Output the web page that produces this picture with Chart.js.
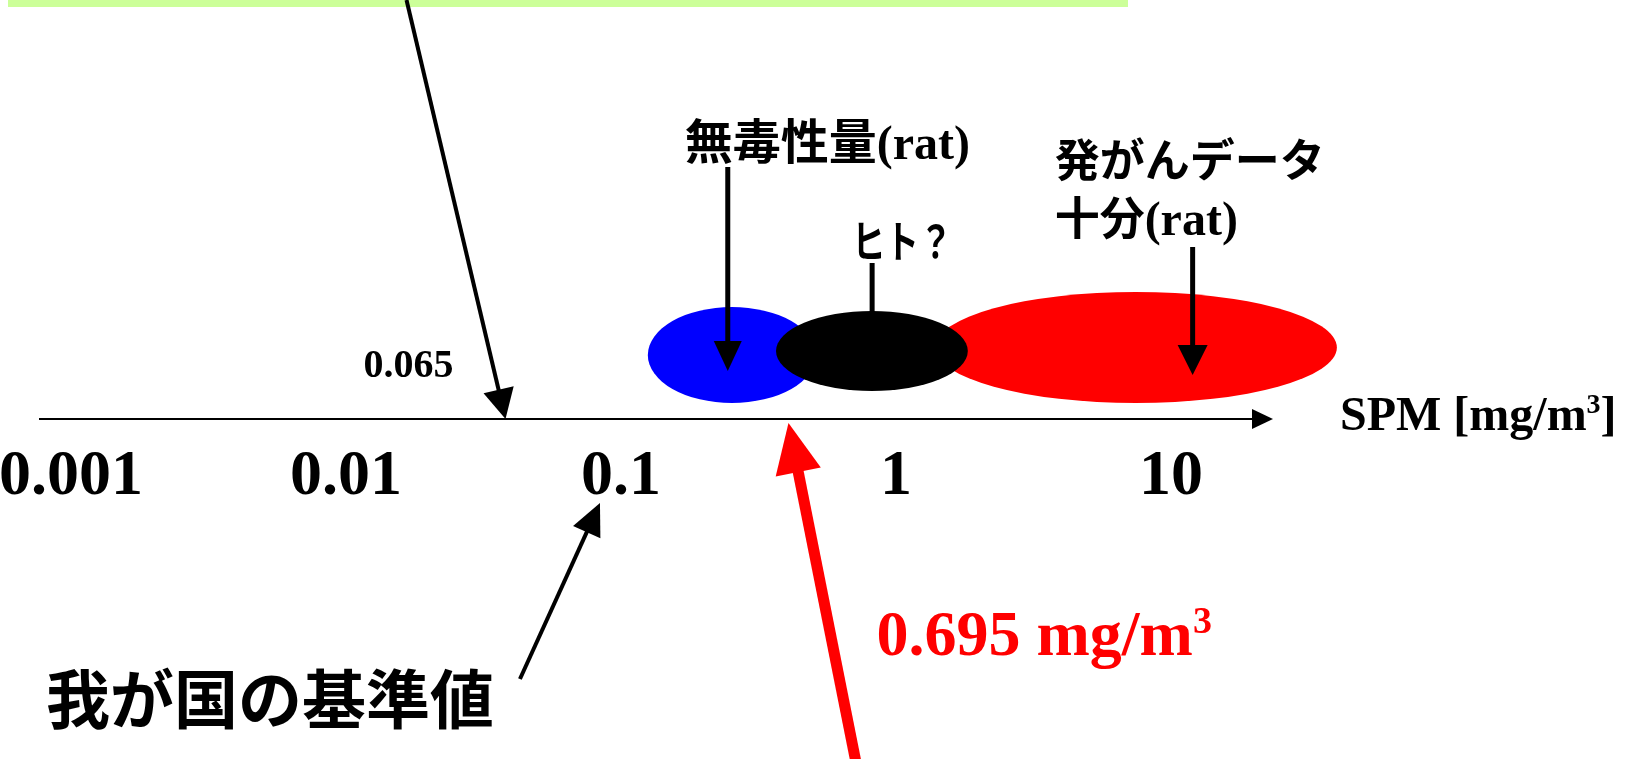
<!DOCTYPE html>
<html>
<head>
<meta charset="utf-8">
<script src="https://cdn.jsdelivr.net/npm/chart.js@4.4.1/dist/chart.umd.min.js"></script>
<style>
  html, body { margin: 0; padding: 0; background: #ffffff; overflow: hidden; }
  canvas { display: block; }
</style>
</head>
<body>
<canvas id="spm" width="1629" height="759"></canvas>
<script>
// SPM concentration axis (mg/m3), logarithmic
const tickValues = [0.001, 0.01, 0.1, 1, 10];
const tickLabels = ['0.001', '0.01', '0.1', '1', '10'];

// concentration ranges (mg/m3) as [low, high]
const noaelRange = [0.214, 0.875];     // 無毒性量(rat)
const humanRange = [0.626, 3.12];      // ヒト？
const carcinogenRange = [2.37, 68.6];  // 発がんデータ十分(rat)

// where the pointers land inside each range (mg/m3)
const noaelPoint = 0.418;
const humanPoint = 1.4;
const carcinogenPoint = 20.5;

// reference concentrations (mg/m3)
const guidelineValue = 0.065;
const standardValue = 0.1;     // 我が国の基準値
const exposureValue = 0.695;

const SERIF = '"Liberation Serif", "Times New Roman", serif';
const JP = '"Noto Sans CJK JP", "Noto Sans CJK SC", sans-serif';

function arrow(ctx, x1, y1, x2, y2, shaft, headW, headL, color) {
  const dx = x2 - x1, dy = y2 - y1;
  const len = Math.hypot(dx, dy);
  const ux = dx / len, uy = dy / len;
  const bx = x2 - ux * headL, by = y2 - uy * headL;
  ctx.save();
  ctx.strokeStyle = color;
  ctx.fillStyle = color;
  ctx.lineWidth = shaft;
  ctx.lineCap = 'butt';
  ctx.beginPath();
  ctx.moveTo(x1, y1);
  ctx.lineTo(bx + ux * 2, by + uy * 2);
  ctx.stroke();
  ctx.beginPath();
  ctx.moveTo(x2, y2);
  ctx.lineTo(bx - uy * headW / 2, by + ux * headW / 2);
  ctx.lineTo(bx + uy * headW / 2, by - ux * headW / 2);
  ctx.closePath();
  ctx.fill();
  ctx.restore();
}

function line(ctx, x1, y1, x2, y2, w, color) {
  ctx.save();
  ctx.strokeStyle = color;
  ctx.lineWidth = w;
  ctx.beginPath();
  ctx.moveTo(x1, y1);
  ctx.lineTo(x2, y2);
  ctx.stroke();
  ctx.restore();
}

// text made of runs in different fonts, left aligned on one baseline
function runs(ctx, x, y, parts, color, scaleX) {
  ctx.save();
  ctx.fillStyle = color;
  ctx.textBaseline = 'alphabetic';
  ctx.textAlign = 'left';
  ctx.translate(x, y);
  ctx.scale(scaleX || 1, 1);
  let cx = 0;
  for (const p of parts) {
    ctx.font = p.font;
    ctx.fillText(p.text, cx, p.dy || 0);
    cx += ctx.measureText(p.text).width;
  }
  ctx.restore();
}

function ellipse(ctx, xs, range, h, ry, color) {
  const x0 = xs.getPixelForValue(range[0]);
  const x1 = xs.getPixelForValue(range[1]);
  ctx.save();
  ctx.fillStyle = color;
  ctx.beginPath();
  ctx.ellipse((x0 + x1) / 2, h, (x1 - x0) / 2, ry, 0, 0, Math.PI * 2);
  ctx.fill();
  ctx.restore();
}

const overlay = {
  id: 'spmOverlay',
  afterDraw(chart) {
    const ctx = chart.ctx;
    const xs = chart.scales.x;
    const ys = chart.scales.y;
    const area = chart.chartArea;
    const axisY = area.bottom - 1;
    const px = v => xs.getPixelForValue(v);
    const py = h => ys.getPixelForValue(h);

    // banner strip along the top
    ctx.fillStyle = '#ccff99';
    ctx.fillRect(8, 0, 1120, 7);

    // concentration axis with arrow head
    line(ctx, 39, axisY, area.right, axisY, 2, '#000');
    ctx.fillStyle = '#000';
    ctx.beginPath();
    ctx.moveTo(area.right, axisY - 10);
    ctx.lineTo(area.right + 21, axisY);
    ctx.lineTo(area.right, axisY + 10);
    ctx.closePath();
    ctx.fill();

    // ranges
    ellipse(ctx, xs, noaelRange, py(65), 48, '#0000ff');
    ellipse(ctx, xs, carcinogenRange, py(72.5), 55.5, '#ff0000');
    ellipse(ctx, xs, humanRange, py(69), 40, '#000000');

    // pointers into the ranges
    const xn = px(noaelPoint);
    arrow(ctx, xn, py(253), xn, py(49), 5, 28, 30, '#000');
    const xc = px(carcinogenPoint);
    arrow(ctx, xc, py(173), xc, py(45), 5, 30, 30, '#000');
    const xh = px(humanPoint);
    line(ctx, xh, py(157), xh, py(108), 5, '#000');

    // guideline 0.065
    const xg = px(guidelineValue);
    arrow(ctx, xg - 99, 0, xg, axisY, 4, 31, 30, '#000');
    runs(ctx, xg - 142, 377, [{ text: '0.065', font: 'bold 40px ' + SERIF }], '#000');

    // national standard, pointing at its tick label
    const xsd = px(standardValue) + 43;
    arrow(ctx, xsd - 80, 679, xsd, 503, 4, 30, 32, '#000');
    runs(ctx, 46, 723, [{ text: '我が国の基準値', font: 'bold 64px ' + JP }], '#000');

    // exposure 0.695 mg/m3
    const xe = px(exposureValue);
    arrow(ctx, xe + 70, 775, xe, 423, 11, 46, 50, '#ff0000');
    runs(ctx, xe + 88, 655, [
      { text: '0.695 mg/m', font: 'bold 64px ' + SERIF },
      { text: '3', font: 'bold 38px ' + SERIF, dy: -22 }
    ], '#ff0000');

    // labels above the ranges
    runs(ctx, xn - 43, 159, [
      { text: '無毒性量', font: 'bold 48px ' + JP },
      { text: '(rat)', font: 'bold 48px ' + SERIF }
    ], '#000');
    runs(ctx, xc - 138, 177, [{ text: '発がんデータ', font: 'bold 45px ' + JP }], '#000');
    runs(ctx, xc - 138, 235, [
      { text: '十分', font: 'bold 45px ' + JP },
      { text: '(rat)', font: 'bold 48px ' + SERIF }
    ], '#000');
    runs(ctx, xh - 20, 258, [{ text: 'ヒト？', font: 'bold 44px ' + JP }], '#000', 0.76);

    // axis title
    runs(ctx, area.right + 88, 430, [
      { text: 'SPM [mg/m', font: 'bold 48px ' + SERIF },
      { text: '3', font: 'bold 28px ' + SERIF, dy: -17 },
      { text: ']', font: 'bold 48px ' + SERIF }
    ], '#000');
  }
};

new Chart(document.getElementById('spm').getContext('2d'), {
  type: 'scatter',
  data: { datasets: [] },
  options: {
    responsive: false,
    animation: false,
    devicePixelRatio: 1,
    events: [],
    layout: { autoPadding: false, padding: { left: 0, right: 377, top: 0, bottom: 225 } },
    plugins: { legend: { display: false }, tooltip: { enabled: false } },
    scales: {
      x: {
        type: 'logarithmic',
        position: 'bottom',
        min: 0.000943,
        max: 33.7,
        afterBuildTicks: s => { s.ticks = tickValues.map(v => ({ value: v })); },
        afterFit: s => { s.paddingLeft = 0; s.paddingRight = 0; },
        ticks: {
          callback: (v, i) => tickLabels[i],
          font: { family: SERIF, weight: 'bold', size: 64, lineHeight: 1 },
          color: '#000',
          labelOffset: 64,
          padding: 25,
          maxRotation: 0,
          minRotation: 0,
          autoSkip: false
        },
        grid: { display: false, drawTicks: false },
        border: { display: false }
      },
      y: { display: false, min: 0, max: 420 }
    }
  },
  plugins: [overlay]
});
</script>
</body>
</html>
